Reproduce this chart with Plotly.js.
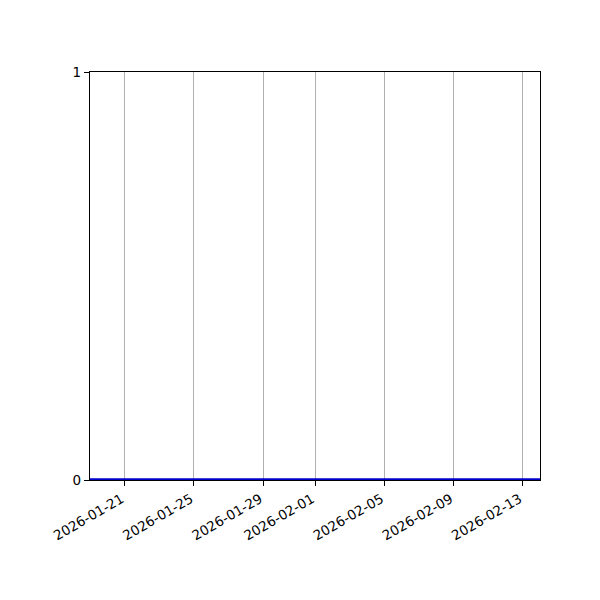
<!DOCTYPE html>
<html>
<head>
<meta charset="utf-8">
<script src="https://cdn.plot.ly/plotly-3.0.1.min.js"></script>
<style>
  html, body { margin: 0; padding: 0; background: #fff; }
  #chart { width: 600px; height: 600px; }
</style>
</head>
<body>
<div id="chart"></div>
<script>
'use strict';

// series: flat at zero over the whole window
const dates = ['2026-01-19', '2026-01-25', '2026-02-01', '2026-02-07', '2026-02-14'];
const values = [0, 0, 0, 0, 0];

// axis ticks
const xTicks = ['2026-01-21', '2026-01-25', '2026-01-29', '2026-02-01', '2026-02-05', '2026-02-09', '2026-02-13'];
const yTicks = [0, 1];

const font = { family: 'DejaVu Sans', size: 13.5, color: '#000' };

const data = [{
    x: dates,
    y: values,
    type: 'scatter',
    mode: 'lines',
    line: { color: '#0000cc', width: 3.5 },
    hoverinfo: 'skip'
}];

const layout = {
    width: 600,
    height: 600,
    margin: { l: 90, r: 60, t: 72, b: 120 },
    paper_bgcolor: '#fff',
    plot_bgcolor: '#fff',
    showlegend: false,
    font: font,
    xaxis: {
        type: 'date',
        range: ['2026-01-19', '2026-02-14'],
        tickvals: xTicks,
        ticktext: xTicks,
        tickangle: -30,
        ticklabelshift: -3,
        ticks: 'outside',
        ticklen: 5,
        tickcolor: '#000',
        showgrid: true,
        gridcolor: '#b0b0b0',
        gridwidth: 1,
        zeroline: false,
        showline: true,
        linecolor: '#000',
        linewidth: 1.2,
        mirror: true,
        tickfont: font
    },
    yaxis: {
        range: [0, 1],
        tickvals: yTicks,
        ticktext: yTicks.map(String),
        ticks: 'outside',
        ticklen: 5,
        tickcolor: '#000',
        showgrid: false,
        zeroline: false,
        showline: true,
        linecolor: '#000',
        linewidth: 1.2,
        mirror: true,
        tickfont: font
    }
};

Plotly.newPlot('chart', data, layout, { displayModeBar: false, staticPlot: true });
</script>
</body>
</html>
